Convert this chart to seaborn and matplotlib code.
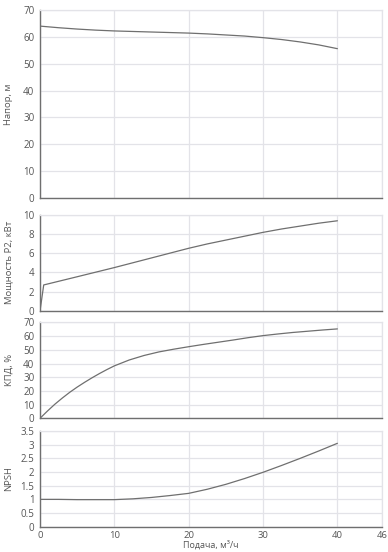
import numpy as np
import pandas as pd
import matplotlib
matplotlib.use('Agg')
import matplotlib.pyplot as plt
import seaborn as sns

# -----------------------------
# Pump curve data
# -----------------------------
q_head = [0, 2.5, 5, 7.5, 10, 12.5, 15, 17.5, 20, 22.5, 25, 27.5, 30, 32.5, 35, 37.5, 40]
head = [64.0, 63.4, 62.9, 62.5, 62.2, 62.0, 61.8, 61.6, 61.4, 61.1, 60.7, 60.3, 59.7,
        59.0, 58.1, 57.0, 55.6]

q_power = [0, 0.5, 5, 10, 12.5, 15, 17.5, 20, 22.5, 25, 27.5, 30, 32.5, 35, 37.5, 40]
power = [0.0, 2.7, 3.55, 4.5, 5.0, 5.5, 6.0, 6.5, 6.95, 7.35, 7.75, 8.15, 8.5, 8.8, 9.1, 9.35]

q_eff = [0, 1, 2, 3, 4, 5, 6, 7, 8, 9, 10, 12, 14, 16, 18, 20, 22, 24, 26, 28, 30,
         32, 34, 36, 38, 40]
eff = [0, 5.3, 10.3, 14.8, 19, 22.8, 26.3, 29.6, 32.7, 35.6, 38.3, 42.6, 45.9, 48.5, 50.5,
       52.3, 54.0, 55.6, 57.2, 58.9, 60.4, 61.6, 62.7, 63.6, 64.5, 65.3]

q_npsh = [0, 2.5, 5, 7.5, 10, 12.5, 15, 17.5, 20, 22.5, 25, 27.5, 30, 32.5, 35, 37.5, 40]
npsh = [1.0, 1.0, 0.99, 0.99, 0.99, 1.02, 1.07, 1.14, 1.22, 1.37, 1.55, 1.76, 1.99,
        2.24, 2.5, 2.77, 3.05]

x_ticks = [0, 10, 20, 30, 40, 46]

panels = [
    ('Напор, м', q_head, head, (0, 70), np.arange(0, 71, 10), None),
    ('Мощность P2, кВт', q_power, power, (0, 10), np.arange(0, 11, 2), None),
    ('КПД, %', q_eff, eff, (0, 70), np.arange(0, 71, 10), None),
    ('NPSH', q_npsh, npsh, (0, 3.5), np.arange(0, 3.6, 0.5),
     ['0', '0.5', '1', '1.5', '2', '2.5', '3', '3.5']),
]

# axes rectangles in figure fractions (left, bottom, width, height)
rects = [
    (0.1031, 0.6413, 0.8814, 0.3406),
    (0.1031, 0.4366, 0.8814, 0.1748),
    (0.1031, 0.2422, 0.8814, 0.1736),
    (0.1031, 0.0458, 0.8814, 0.1734),
]

sns.set_style('whitegrid', {'grid.color': '#e3e3e8', 'axes.edgecolor': '#e3e3e8'})
plt.rcParams['font.family'] = ['Open Sans', 'DejaVu Sans']

fig = plt.figure(figsize=(3.88, 5.52), dpi=100)

for i, (label, qx, vals, ylim, yt, ylabels) in enumerate(panels):
    ax = fig.add_axes(rects[i])
    df = pd.DataFrame({'q': qx, 'v': vals})
    sns.lineplot(data=df, x='q', y='v', ax=ax, color='#6f6f6f', linewidth=0.9)
    ax.set_xlim(0, 46)
    ax.set_ylim(*ylim)
    ax.set_xticks(x_ticks)
    ax.set_yticks(yt)
    if ylabels is not None:
        ax.set_yticklabels(ylabels)
    ax.grid(True, color='#e3e3e8', linewidth=0.9)
    for s in ['left', 'bottom']:
        ax.spines[s].set_color('#6f6f6f')
        ax.spines[s].set_linewidth(1.0)
    for s in ['right', 'top']:
        ax.spines[s].set_color('#e3e3e8')
        ax.spines[s].set_linewidth(0.9)
    ax.tick_params(axis='both', which='both', length=3, width=0.8, color='#6f6f6f',
                   labelsize=7, labelcolor='#555555', pad=1)
    ax.tick_params(axis='x', labelsize=6.8, pad=0.3)
    ax.set_ylabel(label, fontsize=6.8, color='#555555')
    if i < 3:
        ax.set_xlabel('')
        ax.tick_params(axis='x', labelbottom=False)
    else:
        ax.set_xlabel('Подача, м³/ч', fontsize=6.5, color='#555555')
        ax.xaxis.set_label_coords(0.5, -0.145)
    ax.yaxis.set_label_coords(-0.078, 0.5)

fig.savefig('out.png', dpi=100, facecolor='white')
